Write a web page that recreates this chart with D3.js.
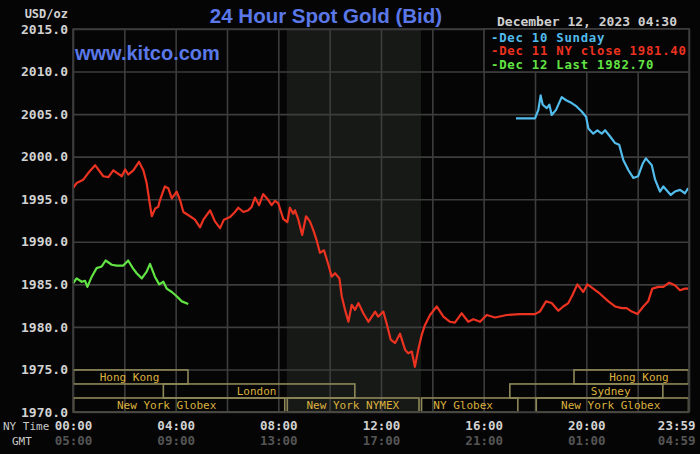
<!DOCTYPE html>
<html>
<head>
<meta charset="utf-8">
<script src="https://cdn.jsdelivr.net/npm/d3@7"></script>
<style>
  html, body { margin: 0; padding: 0; background: #000; }
  svg { display: block; }
</style>
</head>
<body>
<div id="chart"></div>
<script>
const width = 700;
const height = 454;

// prices, [hour of NY day, USD/oz]
const dec10 = [
  [17.26, 2004.5], [18.0, 2004.5], [18.13, 2005.5], [18.22, 2007.2], [18.3, 2006.1],
  [18.46, 2005.7], [18.56, 2006.1], [18.65, 2004.9], [18.82, 2005.5], [19.04, 2007.0],
  [19.23, 2006.6], [19.43, 2006.3], [19.62, 2005.9], [19.82, 2005.3], [19.99, 2004.7],
  [20.08, 2003.3], [20.27, 2002.7], [20.43, 2003.1], [20.6, 2002.7], [20.73, 2003.1],
  [20.92, 2002.4], [21.12, 2001.6], [21.28, 2001.4], [21.44, 1999.6], [21.64, 1998.4],
  [21.83, 1997.5], [22.02, 1997.7], [22.2, 1999.2], [22.32, 1999.8], [22.55, 1999.0],
  [22.68, 1997.3], [22.87, 1995.9], [23.0, 1996.5], [23.29, 1995.5], [23.45, 1995.9],
  [23.65, 1996.1], [23.84, 1995.7], [23.97, 1996.3]
];

const dec11 = [
  [0.0, 1996.3], [0.14, 1996.9], [0.4, 1997.3], [0.6, 1998.1], [0.86, 1999.0],
  [1.18, 1997.7], [1.38, 1997.6], [1.57, 1998.4], [1.9, 1997.7], [2.03, 1998.5],
  [2.15, 1997.9], [2.35, 1998.4], [2.57, 1999.4], [2.74, 1998.4], [2.87, 1996.9],
  [2.96, 1995.1], [3.07, 1993.0], [3.2, 1993.9], [3.32, 1994.1], [3.39, 1994.9],
  [3.58, 1996.5], [3.71, 1996.3], [3.85, 1995.1], [4.04, 1995.9], [4.17, 1994.9],
  [4.3, 1993.5], [4.56, 1993.0], [4.75, 1992.6], [4.95, 1991.7], [5.08, 1992.6],
  [5.34, 1993.7], [5.53, 1992.4], [5.73, 1991.6], [5.88, 1992.6], [6.12, 1992.9],
  [6.31, 1993.5], [6.44, 1994.0], [6.64, 1993.5], [6.83, 1993.7], [6.96, 1994.1],
  [7.09, 1995.2], [7.25, 1994.3], [7.41, 1995.6], [7.61, 1994.9], [7.74, 1994.3],
  [7.87, 1994.8], [8.0, 1994.5], [8.19, 1992.7], [8.35, 1992.3], [8.45, 1994.0],
  [8.58, 1993.3], [8.65, 1993.7], [8.78, 1992.6], [8.93, 1990.8], [9.08, 1993.0],
  [9.23, 1992.4], [9.36, 1991.4], [9.49, 1990.2], [9.62, 1988.7], [9.78, 1989.0],
  [9.95, 1987.3], [10.08, 1985.9], [10.21, 1986.3], [10.38, 1985.7], [10.47, 1983.6],
  [10.6, 1982.0], [10.73, 1980.6], [10.86, 1982.6], [10.99, 1982.0], [11.12, 1982.8],
  [11.31, 1981.6], [11.51, 1980.6], [11.77, 1981.8], [11.89, 1981.2], [12.09, 1981.8],
  [12.22, 1980.4], [12.38, 1978.5], [12.55, 1978.1], [12.74, 1979.2], [12.94, 1977.3],
  [13.06, 1976.9], [13.2, 1977.1], [13.32, 1975.3], [13.45, 1977.3], [13.59, 1979.1],
  [13.71, 1980.2], [13.91, 1981.4], [14.17, 1982.4], [14.43, 1981.2], [14.69, 1980.6],
  [14.88, 1980.5], [15.14, 1981.6], [15.4, 1980.6], [15.6, 1980.9], [15.86, 1980.6],
  [16.12, 1981.4], [16.44, 1981.1], [16.9, 1981.4], [17.42, 1981.5], [18.0, 1981.5],
  [18.19, 1981.8], [18.43, 1983.0], [18.65, 1982.8], [18.91, 1981.9], [19.1, 1982.4],
  [19.3, 1982.8], [19.47, 1983.8], [19.65, 1985.0], [19.88, 1984.1], [20.04, 1985.0],
  [20.27, 1984.5], [20.53, 1983.9], [20.86, 1983.0], [21.12, 1982.4], [21.38, 1982.2],
  [21.57, 1982.2], [21.77, 1981.8], [21.99, 1981.5], [22.22, 1982.4], [22.41, 1983.0],
  [22.57, 1984.5], [22.81, 1984.7], [23.0, 1984.7], [23.23, 1985.2], [23.45, 1984.9],
  [23.65, 1984.3], [23.84, 1984.5], [23.97, 1984.5]
];

const dec12 = [
  [0.0, 1985.1], [0.14, 1985.7], [0.34, 1985.3], [0.47, 1985.4], [0.56, 1984.7],
  [0.73, 1985.9], [0.92, 1986.9], [1.12, 1987.1], [1.27, 1987.8], [1.51, 1987.3],
  [1.7, 1987.2], [1.96, 1987.2], [2.15, 1987.8], [2.33, 1986.9], [2.48, 1986.3],
  [2.68, 1985.7], [2.87, 1986.5], [3.0, 1987.4], [3.19, 1985.9], [3.36, 1985.0],
  [3.52, 1985.3], [3.65, 1984.5], [3.85, 1984.1], [4.04, 1983.6], [4.24, 1983.0],
  [4.49, 1982.7]
];

const legendLabels = ["Dec 10 Sunday", "Dec 11 NY close 1981.40", "Dec 12 Last 1982.70"];
const seriesColors = ["#52bcec", "#ec3220", "#62e444"];

const priceTicks = d3.range(1970, 2015.1, 5);
const hourTicks = [0, 4, 8, 12, 16, 20, 24];
const nyLabels = ["00:00", "04:00", "08:00", "12:00", "16:00", "20:00", "23:59"];
const gmtLabels = ["05:00", "09:00", "13:00", "17:00", "21:00", "01:00", "04:59"];

// trading sessions: row, start hour, end hour, label hour
const sessions = [
  { name: "Hong Kong", row: 0, start: 0, end: 4.5, labelAt: 2.2 },
  { name: "Hong Kong", row: 0, start: 19.5, end: 24, labelAt: 22.05 },
  { name: "London", row: 1, start: 3.5, end: 11, labelAt: 7.15 },
  { name: "Sydney", row: 1, start: 17, end: 23, labelAt: 20.95 },
  { name: "New York Globex", row: 2, start: 0, end: 8.27, labelAt: 3.65 },
  { name: "New York NYMEX", row: 2, start: 8.33, end: 13.5, labelAt: 10.9 },
  { name: "NY Globex", row: 2, start: 13.56, end: 17.35, labelAt: 15.2 },
  { name: "New York Globex", row: 2, start: 18.03, end: 24, labelAt: 20.95 }
];
const nymexHours = [8.33, 13.56];

const margin = { top: 29, right: 11, bottom: 42, left: 73 };
const plotW = width - margin.left - margin.right;
const plotH = height - margin.top - margin.bottom;

const x = d3.scaleLinear().domain([0, 24]).range([0, plotW]);
const y = d3.scaleLinear().domain([1970, 2015]).range([plotH, 0]);
const rowY = d3.scaleLinear().domain([0, 3]).range([y(1975) + 0.5, plotH]);

const mono = "'DejaVu Sans Mono', monospace";
const gridColor = "#3d3d3d";

const svg = d3
  .select("#chart")
  .append("svg")
  .attr("width", width)
  .attr("height", height)
  .style("background", "#050505");

const g = svg.append("g").attr("transform", `translate(${margin.left},${margin.top})`);

// NYMEX hours shading
g.append("rect")
  .attr("x", x(nymexHours[0]))
  .attr("y", 0)
  .attr("width", x(nymexHours[1]) - x(nymexHours[0]))
  .attr("height", plotH)
  .attr("fill", "#171917");

// grid
g.append("g")
  .call(d3.axisLeft(y).tickValues(priceTicks).tickSize(-plotW).tickFormat(""))
  .call((a) => a.select(".domain").remove())
  .selectAll("line")
  .attr("stroke", gridColor)
  .attr("stroke-width", 1.6);

g.append("g")
  .attr("transform", `translate(0,${plotH})`)
  .call(d3.axisBottom(x).tickValues(d3.range(0, 24.1, 2)).tickSize(plotH).tickFormat(""))
  .call((a) => a.select(".domain").remove())
  .selectAll("line")
  .attr("transform", `translate(0,${-plotH})`)
  .attr("stroke", gridColor)
  .attr("stroke-width", 1.6);

// session boxes
const sess = g.append("g");
sess
  .selectAll("rect")
  .data(sessions)
  .join("rect")
  .attr("x", (d) => x(d.start) + 0.5)
  .attr("y", (d) => rowY(d.row))
  .attr("width", (d) => x(d.end) - x(d.start) - 1)
  .attr("height", (d) => rowY(d.row + 1) - rowY(d.row))
  .attr("fill", "none")
  .attr("stroke", "#8e8858")
  .attr("stroke-width", 1.6);

sess
  .selectAll("text")
  .data(sessions)
  .join("text")
  .attr("x", (d) => x(d.labelAt))
  .attr("y", (d) => (rowY(d.row) + rowY(d.row + 1)) / 2 + 1)
  .attr("text-anchor", "middle")
  .attr("dominant-baseline", "central")
  .attr("font-family", mono)
  .attr("font-size", 11)
  .attr("fill", "#dcb13e")
  .text((d) => d.name);

// price lines
const line = d3
  .line()
  .x((d) => x(d[0]))
  .y((d) => y(d[1]));

[dec11, dec10, dec12].forEach((series, i) => {
  const color = [seriesColors[1], seriesColors[0], seriesColors[2]][i];
  g.append("path")
    .datum(series)
    .attr("d", line)
    .attr("fill", "none")
    .attr("stroke", color)
    .attr("stroke-width", 2.2)
    .attr("stroke-linejoin", "round");
});

// plot frame
g.append("rect")
  .attr("width", plotW)
  .attr("height", plotH)
  .attr("fill", "none")
  .attr("stroke", gridColor)
  .attr("stroke-width", 1.6);

// y axis labels
g.append("g")
  .call(d3.axisLeft(y).tickValues(priceTicks).tickSize(0).tickPadding(5).tickFormat(d3.format(".1f")))
  .call((a) => a.select(".domain").remove())
  .selectAll("text")
  .attr("font-family", mono)
  .attr("font-weight", "bold")
  .attr("font-size", 13)
  .attr("fill", "#d2d2d2");

svg.append("text")
  .attr("x", 68)
  .attr("y", 14)
  .attr("text-anchor", "end")
  .attr("dominant-baseline", "central")
  .attr("font-family", mono)
  .attr("font-weight", "bold")
  .attr("font-size", 12)
  .attr("fill", "#d2d2d2")
  .text("USD/oz");

// x axis labels, NY time row and GMT row
function timeRow(labels, dy, color) {
  g.append("g")
    .attr("transform", `translate(0,${plotH + dy})`)
    .call(d3.axisBottom(x).tickValues(hourTicks).tickSize(0).tickPadding(9).tickFormat((d, i) => labels[i]))
    .call((a) => a.select(".domain").remove())
    .selectAll("text")
    .attr("font-family", mono)
    .attr("font-weight", "bold")
    .attr("font-size", 12.5)
    .attr("fill", color)
    .filter((d) => d === 24)
    .attr("text-anchor", "end")
    .attr("x", 6);
}
timeRow(nyLabels, 0, "#d2d2d2");
timeRow(gmtLabels, 15, "#555555");

svg.append("text")
  .attr("x", 3)
  .attr("y", 426)
  .attr("dominant-baseline", "central")
  .attr("font-family", mono)
  .attr("font-size", 11)
  .attr("fill", "#c8c8c8")
  .text("NY Time");

svg.append("text")
  .attr("x", 12)
  .attr("y", 441)
  .attr("dominant-baseline", "central")
  .attr("font-family", mono)
  .attr("font-size", 11)
  .attr("fill", "#c8c8c8")
  .text("GMT");

// titles
svg.append("text")
  .attr("x", 326)
  .attr("y", 23)
  .attr("text-anchor", "middle")
  .attr("font-family", "'Liberation Sans', Arial, sans-serif")
  .attr("font-weight", "bold")
  .attr("font-size", 20.5)
  .attr("fill", "#5a78e8")
  .text("24 Hour Spot Gold (Bid)");

svg.append("text")
  .attr("x", 75)
  .attr("y", 60)
  .attr("font-family", "'Liberation Sans', Arial, sans-serif")
  .attr("font-weight", "bold")
  .attr("font-size", 20)
  .attr("fill", "#5a78e8")
  .text("www.kitco.com");

svg.append("text")
  .attr("x", 677)
  .attr("y", 21)
  .attr("text-anchor", "end")
  .attr("dominant-baseline", "central")
  .attr("font-family", mono)
  .attr("font-weight", "bold")
  .attr("font-size", 13)
  .attr("fill", "#cfcfcf")
  .text("December 12, 2023 04:30");

// legend
const legend = svg.append("g").attr("transform", "translate(484,29)");
legend.append("rect")
  .attr("width", 205)
  .attr("height", 43)
  .attr("fill", "#050505")
  .attr("stroke", gridColor)
  .attr("stroke-width", 1.6);

legend.selectAll("text")
  .data(legendLabels)
  .join("text")
  .attr("x", 7)
  .attr("y", (d, i) => 8.5 + i * 13.5)
  .attr("dominant-baseline", "central")
  .attr("font-family", mono)
  .attr("font-weight", "bold")
  .attr("font-size", 12.3)
  .attr("letter-spacing", 0.75)
  .attr("fill", (d, i) => seriesColors[i])
  .text((d) => "-" + d);
</script>
</body>
</html>
